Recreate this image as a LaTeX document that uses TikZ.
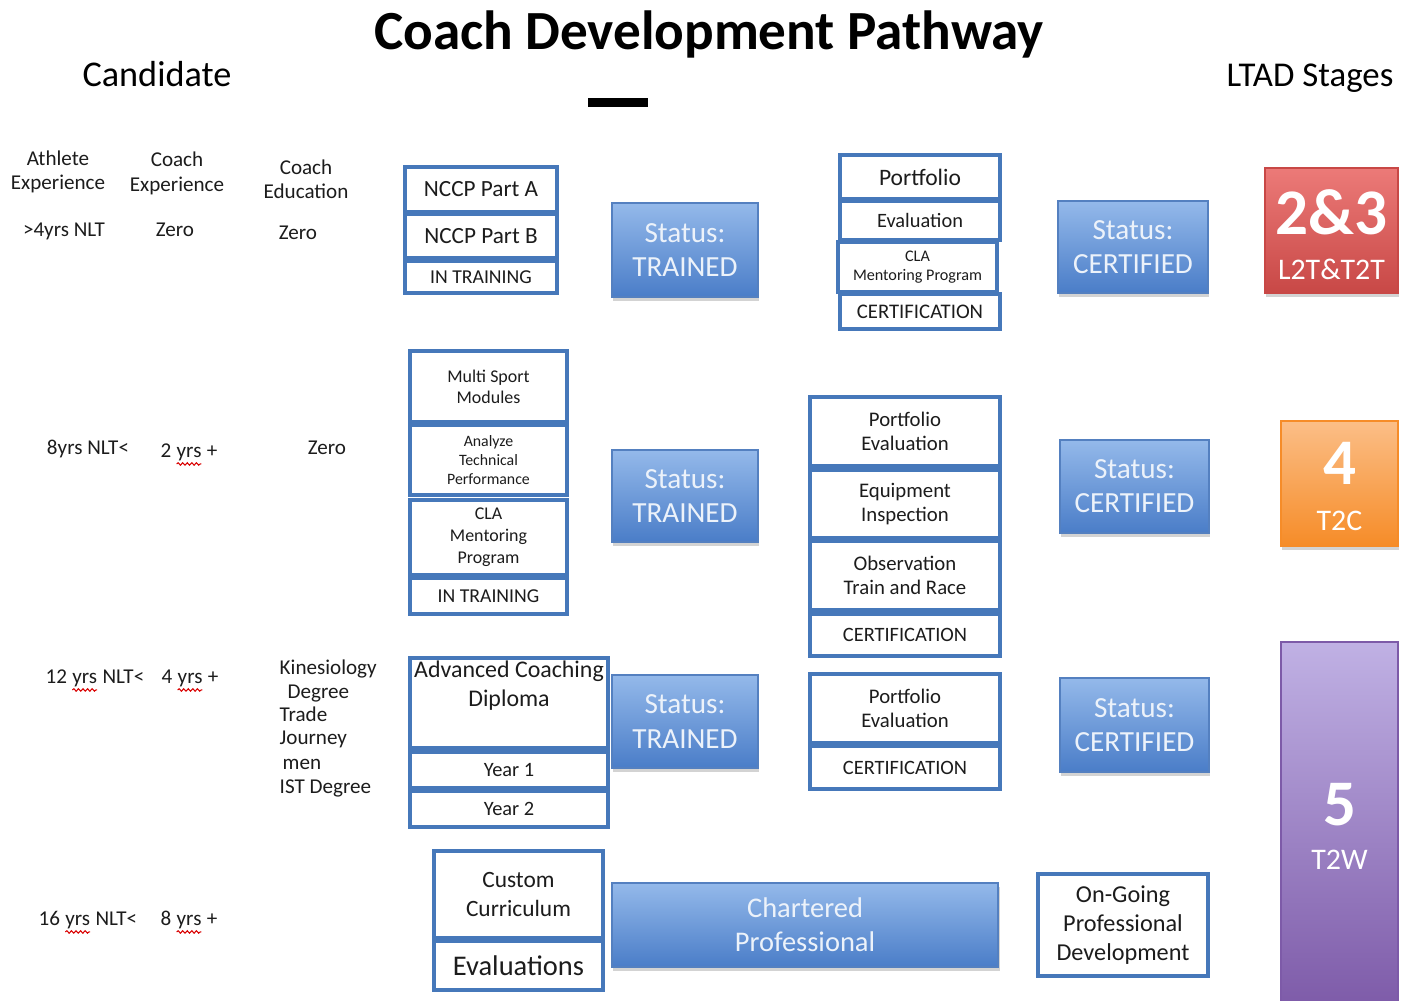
\documentclass[tikz,border=0pt]{standalone}
\usepackage{fontspec}
\setmainfont{Carlito}
\usetikzlibrary{shadows,decorations.pathmorphing}

\definecolor{cellblue}{RGB}{70,120,186}
\definecolor{ink}{RGB}{28,28,28}
\definecolor{stlight}{RGB}{148,185,234}
\definecolor{stdark}{RGB}{74,125,200}
\definecolor{stedge}{RGB}{84,128,192}
\definecolor{sttext}{RGB}{236,242,250}
\definecolor{redtop}{RGB}{236,122,120}
\definecolor{redbot}{RGB}{200,72,70}
\definecolor{orgtop}{RGB}{251,190,135}
\definecolor{orgbot}{RGB}{246,140,40}
\definecolor{purtop}{RGB}{192,177,228}
\definecolor{purbot}{RGB}{125,90,168}

\newcommand\fz[2]{\fontsize{#1}{#2}\selectfont}
% red spell-check line under a word
\newcommand\wavy[1]{\tikz[baseline=(wv.base)]{\node[inner sep=0pt,outer sep=0pt] (wv) {#1};
  \draw[red!85!black,line width=0.3pt,decorate,decoration={snake,amplitude=0.35pt,segment length=1.3pt}]
    ([yshift=-1.7pt]wv.base west) -- ([yshift=-1.7pt]wv.base east);}}

\begin{document}
\begin{tikzpicture}[x=0.01cm,y=-0.01cm,
  lbl/.style={anchor=base,font=\fz{6}{7},text=ink,inner sep=0pt},
  cell/.style={draw=cellblue,line width=1pt,fill=white,inner sep=0pt,align=center,text=ink},
  status/.style={top color=stlight,bottom color=stdark,draw=stedge,line width=0.4pt,
    drop shadow={shadow xshift=0.4pt,shadow yshift=-1.1pt,opacity=.35},
    text=sttext,align=center,font=\fz{8.3}{9.7},inner sep=0pt},
  stage/.style={line width=0.4pt,inner sep=0pt,
    drop shadow={shadow xshift=0.4pt,shadow yshift=-1.1pt,opacity=.35}},
  stagebig/.style={anchor=base,text=white,inner sep=0pt,font=\fz{18.5}{20}\bfseries},
  stagesmall/.style={anchor=base,text=white,inner sep=0pt,font=\fz{8.5}{10}}]
  \useasboundingbox (0,0) rectangle (1402,1001);

  % headings
  \node[anchor=base,font=\fz{15.7}{18}\bfseries,text=black] (title) at (709,50) {Coach Development Pathway};
  \node[anchor=base,font=\fz{10.3}{12},text=black] (cand) at (157,87) {Candidate};
  \node[anchor=base,font=\fz{9.9}{12},text=black] (ltad) at (1310,87) {LTAD Stages};
  \node[fill=black,inner sep=0pt,minimum width=0.6cm,minimum height=0.09cm] (bar) at (618,102.5) {};

  % candidate columns
  \node[lbl] (ath1) at (58,166) {Athlete};
  \node[lbl] (ath2) at (58,190) {Experience};
  \node[lbl] (cex1) at (177,167) {Coach};
  \node[lbl] (cex2) at (177,192) {Experience};
  \node[lbl] (ced1) at (306,175) {Coach};
  \node[lbl] (ced2) at (306,199) {Education};
  \node[lbl] (a1) at (64,237) {>4yrs NLT};
  \node[lbl] (b1) at (175,237) {Zero};
  \node[lbl] (c1) at (298,240) {Zero};
  \node[lbl] (a2) at (88,455) {8yrs NLT<};
  \node[lbl] (b2) at (189,458) {2 \wavy{yrs} +};
  \node[lbl] (c2) at (327,455) {Zero};
  \node[lbl] (a3) at (95,684) {12 \wavy{yrs} NLT<};
  \node[lbl] (b3) at (190,684) {4 \wavy{yrs} +};
  \node[lbl,anchor=base west] (k1) at (279,675) {Kinesiology};
  \node[lbl,anchor=base west] (k2) at (287,699) {Degree};
  \node[lbl,anchor=base west] (k3) at (279,722) {Trade};
  \node[lbl,anchor=base west] (k4) at (279,745) {Journey};
  \node[lbl,anchor=base west] (k5) at (282,770) {men};
  \node[lbl,anchor=base west] (k6) at (279,794) {IST Degree};
  \node[lbl] (a4) at (88,926) {16 \wavy{yrs} NLT<};
  \node[lbl] (b4) at (189,926) {8 \wavy{yrs} +};

  % row 1
  \node[cell,minimum width=1.52cm,minimum height=0.45cm,font=\fz{6.6}{8}] (pa) at (481,189.5) {NCCP Part A};
  \node[cell,minimum width=1.52cm,minimum height=0.44cm,font=\fz{6.6}{8}] (pb) at (481,236) {NCCP Part B};
  \node[cell,minimum width=1.52cm,minimum height=0.32cm,font=\fz{5.6}{7}] (tr1) at (481,277) {IN TRAINING};
  \node[status,minimum width=1.46cm,minimum height=0.94cm] (st1) at (685,250) {Status:\\TRAINED};
  \node[cell,minimum width=1.60cm,minimum height=0.44cm,font=\fz{6.7}{8}] (pf1) at (920,177) {Portfolio};
  \node[cell,minimum width=1.60cm,minimum height=0.39cm,font=\fz{5.8}{7}] (ev1) at (920,220.5) {Evaluation};
  \node[cell,minimum width=1.59cm,minimum height=0.50cm,font=\fz{4.6}{5.6}] (cla1) at (917.5,267) {CLA\\Mentoring Program};
  \node[cell,minimum width=1.60cm,minimum height=0.35cm,font=\fz{5.9}{7}] (ce1) at (920,311.5) {CERTIFICATION};
  \node[status,minimum width=1.50cm,minimum height=0.92cm] (sc1) at (1133,247) {Status:\\CERTIFIED};
  \node[stage,top color=redtop,bottom color=redbot,draw=redbot,minimum width=1.33cm,minimum height=1.25cm] (s23) at (1331.5,230.5) {};
  \node[stagebig] (n23) at (1331.5,235) {2\&3};
  \node[stagesmall] (m23) at (1331.5,280) {L2T\&T2T};

  % row 2
  \node[cell,minimum width=1.57cm,minimum height=0.71cm,font=\fz{5.1}{6}] (ms) at (488.5,386.5) {Multi Sport\\Modules};
  \node[cell,minimum width=1.57cm,minimum height=0.70cm,font=\fz{4.5}{5.3}] (atp) at (488.5,460) {Analyze\\Technical\\Performance};
  \node[cell,minimum width=1.57cm,minimum height=0.75cm,font=\fz{5.1}{6.3}] (cla2) at (488.5,537.5) {CLA\\Mentoring\\Program};
  \node[cell,minimum width=1.57cm,minimum height=0.36cm,font=\fz{5.6}{7}] (tr2) at (488.5,596) {IN TRAINING};
  \node[status,minimum width=1.46cm,minimum height=0.92cm] (st2) at (685,496) {Status:\\TRAINED};
  \node[cell,minimum width=1.90cm,minimum height=0.69cm,font=\fz{5.9}{6.8}] (pe2) at (905,431.5) {Portfolio\\Evaluation};
  \node[cell,minimum width=1.90cm,minimum height=0.68cm,font=\fz{5.9}{6.8}] (eq) at (905,504) {Equipment\\Inspection};
  \node[cell,minimum width=1.90cm,minimum height=0.69cm,font=\fz{5.9}{6.8}] (ob) at (905,575.5) {Observation\\Train and Race};
  \node[cell,minimum width=1.90cm,minimum height=0.42cm,font=\fz{5.8}{7}] (ce2) at (905,635) {CERTIFICATION};
  \node[status,minimum width=1.49cm,minimum height=0.93cm] (sc2) at (1134.5,486.5) {Status:\\CERTIFIED};
  \node[stage,top color=orgtop,bottom color=orgbot,draw=orgbot,minimum width=1.17cm,minimum height=1.25cm] (s4) at (1339.5,483.5) {};
  \node[stagebig] (n4) at (1339.5,485) {4};
  \node[stagesmall] (m4) at (1339.5,531) {T2C};

  % row 3
  \node[cell,minimum width=1.98cm,minimum height=0.90cm] (acd) at (509,703) {};
  \node[anchor=north,align=center,inner sep=0pt,text=ink,font=\fz{6.8}{8.2}] (acdt) at (509,660) {Advanced Coaching\\Diploma};
  \node[cell,minimum width=1.98cm,minimum height=0.36cm,font=\fz{5.8}{7}] (yr1) at (509,770) {Year 1};
  \node[cell,minimum width=1.98cm,minimum height=0.36cm,font=\fz{5.8}{7}] (yr2) at (509,809) {Year 2};
  \node[status,minimum width=1.46cm,minimum height=0.93cm] (st3) at (685,721.5) {Status:\\TRAINED};
  \node[cell,minimum width=1.90cm,minimum height=0.69cm,font=\fz{5.9}{6.8}] (pe3) at (905,708.5) {Portfolio\\Evaluation};
  \node[cell,minimum width=1.90cm,minimum height=0.43cm,font=\fz{5.8}{7}] (ce3) at (905,767.5) {CERTIFICATION};
  \node[status,minimum width=1.49cm,minimum height=0.94cm] (sc3) at (1134.5,725) {Status:\\CERTIFIED};
  \node[stage,top color=purtop,bottom color=purbot,draw=purbot,minimum width=1.17cm,minimum height=3.68cm] (s5) at (1339.5,826) {};
  \node[stagebig] (n5) at (1339.5,826) {5};
  \node[stagesmall] (m5) at (1339.5,870) {T2W};

  % row 4
  \node[cell,minimum width=1.69cm,minimum height=0.87cm,font=\fz{6.65}{8.2}] (cc) at (518.5,894.5) {Custom\\Curriculum};
  \node[cell,minimum width=1.69cm,minimum height=0.49cm,font=\fz{8.1}{9}] (evs) at (518.5,965.5) {Evaluations};
  \node[status,minimum width=3.86cm,minimum height=0.84cm,font=\fz{8.1}{9.6}] (cp) at (805,925) {Chartered\\Professional};
  \node[cell,minimum width=1.70cm,minimum height=1.02cm,font=\fz{6.9}{8.2}] (og) at (1123,925) {On-Going\\Professional\\Development};
\end{tikzpicture}
\end{document}
